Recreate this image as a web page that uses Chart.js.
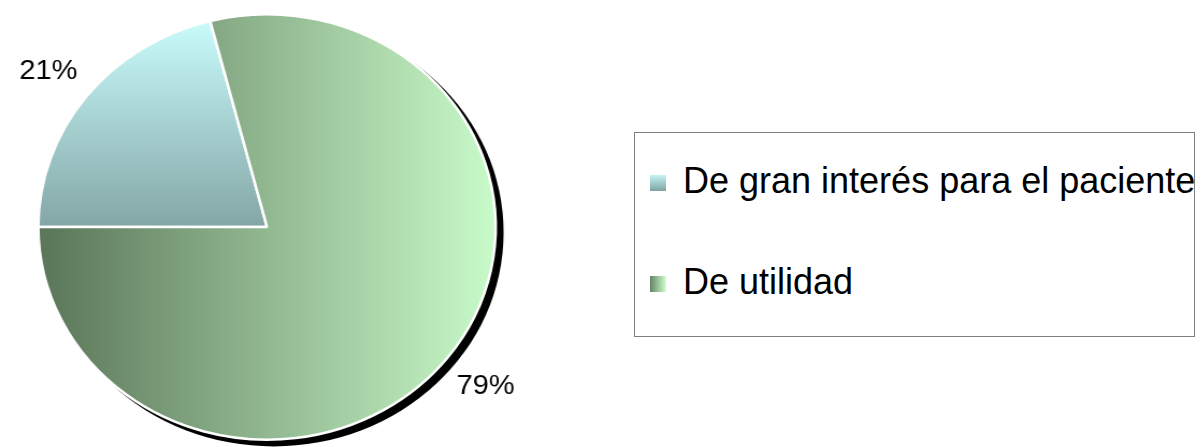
<!DOCTYPE html>
<html lang="es">
<head>
<meta charset="utf-8">
<title>Interés del paciente</title>
<script src="https://cdn.jsdelivr.net/npm/chart.js@4.4.1/dist/chart.umd.min.js"></script>
<style>
  html, body { margin: 0; padding: 0; background: #fff; overflow: hidden; }
  body { width: 1202px; height: 447px; position: relative; font-family: "Liberation Sans", Arial, sans-serif; }
  /* the original pie is a little wider than tall, so the pie canvas is stretched */
  #pie-wrap { position: absolute; left: 0; top: 0; width: 560px; height: 447px;
              transform: scaleX(1.0748); transform-origin: 0 0; }
  #legend { position: absolute; left: 634px; top: 132px; width: 559px; height: 203px;
            border: 1.5px solid #7f7f7f; }
  .item { position: absolute; left: 0; height: 40px; line-height: 40px; white-space: nowrap;
          font-size: 36px; color: #000; }
  .item .sw { position: absolute; left: 13px; top: 12px; width: 18px; height: 18px;
              box-shadow: inset 2px 2px 0 #fff; }
  .item .tx { position: absolute; left: 48px; top: 0; }
</style>
</head>
<body>
<div id="pie-wrap"><canvas id="chart-pie" width="560" height="447"></canvas></div>
<div id="legend"></div>
<script>
(function () {
  'use strict';

  const categories = ['De gran interés para el paciente', 'De utilidad'];
  const values = [21, 79];
  const valueLabels = values.map(v => v + '%');

  // gradient ends per slice: blue runs top->centre, green runs left->right
  const sliceGrad = [
    { dir: 'v', from: '#ccffff', to: '#84a6a6' },
    { dir: 'h', from: '#5a7558', to: '#c9fbca' }
  ];

  function fillFor(context) {
    const chart = context.chart;
    const area = chart.chartArea;
    const g = sliceGrad[context.dataIndex];
    if (!area) return g.to;
    const c = chart.ctx;
    let grad;
    if (g.dir === 'v') {
      grad = c.createLinearGradient(0, area.top, 0, (area.top + area.bottom) / 2);
    } else {
      grad = c.createLinearGradient(area.left, 0, area.right, 0);
    }
    grad.addColorStop(0, g.from);
    grad.addColorStop(1, g.to);
    return grad;
  }

  /* black drop shadow behind the whole pie */
  const pieShadow = {
    id: 'pieShadow',
    beforeDatasetsDraw(chart) {
      const arc = chart.getDatasetMeta(0).data[0];
      if (!arc) return;
      const p = arc.getProps(['x', 'y', 'outerRadius'], true);
      const c = chart.ctx;
      c.save();
      c.fillStyle = '#000';
      c.beginPath();
      c.arc(p.x + 6.2, p.y + 5.5, p.outerRadius + 1.2, 0, Math.PI * 2);
      c.fill();
      c.restore();
    }
  };

  /* percentage labels just outside each slice */
  const outsideLabels = {
    id: 'outsideLabels',
    afterDatasetsDraw(chart) {
      const c = chart.ctx;
      c.save();
      c.font = '27px "Liberation Sans", Arial, sans-serif';
      c.fillStyle = '#000';
      c.textAlign = 'center';
      c.textBaseline = 'middle';
      chart.getDatasetMeta(0).data.forEach((arc, i) => {
        const p = arc.getProps(['x', 'y', 'startAngle', 'endAngle', 'outerRadius'], true);
        const mid = (p.startAngle + p.endAngle) / 2;
        const r = p.outerRadius * 1.21;
        c.fillText(valueLabels[i], p.x + Math.cos(mid) * r, p.y + Math.sin(mid) * r + 2);
      });
      c.restore();
    }
  };

  new Chart(document.getElementById('chart-pie'), {
    type: 'pie',
    data: {
      labels: categories,
      datasets: [{
        data: values,
        backgroundColor: fillFor,
        borderColor: '#ffffff',
        borderWidth: 2.5
      }]
    },
    options: {
      responsive: false,
      animation: false,
      rotation: 270,
      layout: { padding: { top: 13, bottom: 6, left: 34.4, right: 97.6 } },
      plugins: {
        legend: { display: false },
        tooltip: { enabled: false }
      }
    },
    plugins: [pieShadow, outsideLabels]
  });

  /* legend box */
  const swatches = [
    'linear-gradient(to bottom, #ccffff, #80a2a2)',
    'linear-gradient(to right, #5a7558, #ccffcc)'
  ];
  const itemTops = [28, 129];
  const legend = document.getElementById('legend');
  categories.forEach((name, i) => {
    const item = document.createElement('div');
    item.className = 'item';
    item.style.top = itemTops[i] + 'px';
    const sw = document.createElement('span');
    sw.className = 'sw';
    sw.style.background = swatches[i];
    const tx = document.createElement('span');
    tx.className = 'tx';
    tx.textContent = name;
    item.appendChild(sw);
    item.appendChild(tx);
    legend.appendChild(item);
  });
})();
</script>
</body>
</html>
